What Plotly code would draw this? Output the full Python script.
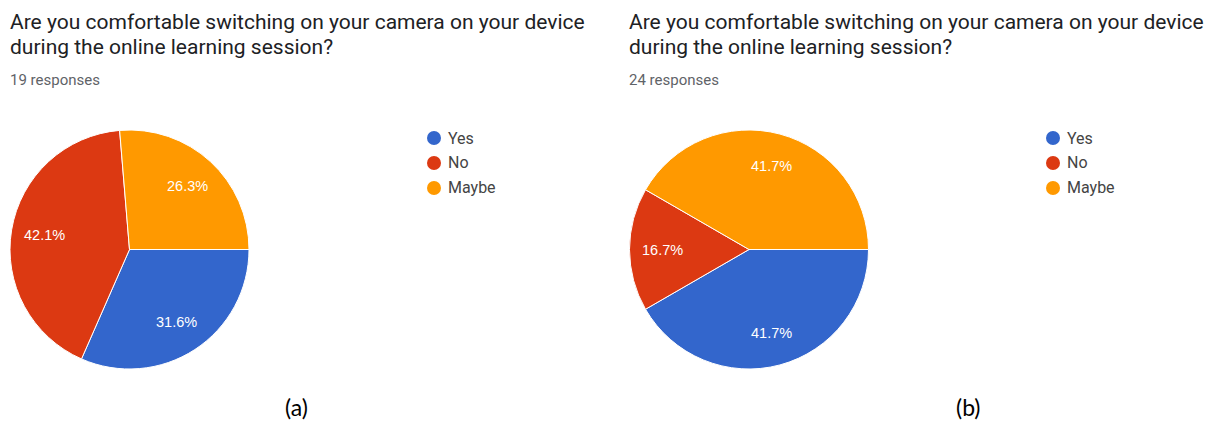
import numpy as np
import plotly.graph_objects as go

W, H = 1214, 421

# Survey data
categories = ["Yes", "No", "Maybe"]
colors = ["#3366CC", "#DC3912", "#FF9900"]
question = ["Are you comfortable switching on your camera on your device",
            "during the online learning session?"]
counts_a = [6, 8, 5]     # 19 responses
counts_b = [10, 4, 10]   # 24 responses
panel_tags = ["(a)", "(b)"]

# Layout of each panel, in pixels
panels = [
    dict(counts=counts_a, left=8, cx=129.5, legend_x=434, tag_x=296),
    dict(counts=counts_b, left=627, cx=749.0, legend_x=1053, tag_x=968),
]
CY, R = 249.5, 119.5
LABEL_R = 0.72


def px(x):
    return x / W


def py(y):
    return 1 - y / H


fig = go.Figure()
annotations = []
shapes = []

for p in panels:
    vals = np.array(p["counts"], dtype=float)
    total = vals.sum()
    fig.add_trace(go.Pie(
        labels=categories,
        values=vals,
        marker=dict(colors=colors, line=dict(color="white", width=1)),
        sort=False,
        direction="clockwise",
        rotation=90,
        textinfo="none",
        hoverinfo="label+percent",
        showlegend=False,
        domain=dict(x=[px(p["cx"] - R), px(p["cx"] + R)],
                    y=[py(CY + R), py(CY - R)]),
    ))

    # Percentage labels along each slice's mid-angle
    frac = vals / total
    ends = np.cumsum(frac) * 360.0
    mids = ends - frac * 180.0
    for f, m in zip(frac, mids):
        a = np.deg2rad(m)
        lx = p["cx"] + LABEL_R * R * np.cos(a)
        ly = CY + LABEL_R * R * np.sin(a)
        annotations.append(dict(
            x=px(lx), y=py(ly), xref="paper", yref="paper",
            text=f"{f * 100:.1f}%", showarrow=False,
            xanchor="center", yanchor="middle",
            font=dict(family="Liberation Sans", size=14.5, color="white"),
        ))

    # Question title and response count
    for i, line in enumerate(question):
        annotations.append(dict(
            x=px(p["left"]), y=py(22 + 25 * i), xref="paper", yref="paper",
            text=line, showarrow=False, xanchor="left", yanchor="middle",
            font=dict(family="Roboto", size=21, color="#202124"),
        ))
    annotations.append(dict(
        x=px(p["left"]), y=py(80), xref="paper", yref="paper",
        text=f"{int(total)} responses", showarrow=False,
        xanchor="left", yanchor="middle",
        font=dict(family="Roboto", size=15, color="#5f6368"),
    ))

    # Legend with round markers
    for k, (cat, col) in enumerate(zip(categories, colors)):
        ly = 138 + 25 * k
        shapes.append(dict(
            type="circle", xref="paper", yref="paper",
            x0=px(p["legend_x"] - 7), x1=px(p["legend_x"] + 7),
            y0=py(ly + 7), y1=py(ly - 7),
            fillcolor=col, line=dict(width=0),
        ))
        annotations.append(dict(
            x=px(p["legend_x"] + 12), y=py(ly), xref="paper", yref="paper",
            text=cat, showarrow=False, xanchor="left", yanchor="middle",
            font=dict(family="Roboto", size=16, color="#444444"),
        ))

for p, tag in zip(panels, panel_tags):
    annotations.append(dict(
        x=px(p["tag_x"]), y=py(407), xref="paper", yref="paper",
        text=tag, showarrow=False, xanchor="center", yanchor="middle",
        font=dict(family="Lato", size=23, color="black"),
    ))

fig.update_layout(
    width=W, height=H,
    margin=dict(l=0, r=0, t=0, b=0),
    paper_bgcolor="white",
    plot_bgcolor="white",
    annotations=annotations,
    shapes=shapes,
)

fig.write_html("out.html")
